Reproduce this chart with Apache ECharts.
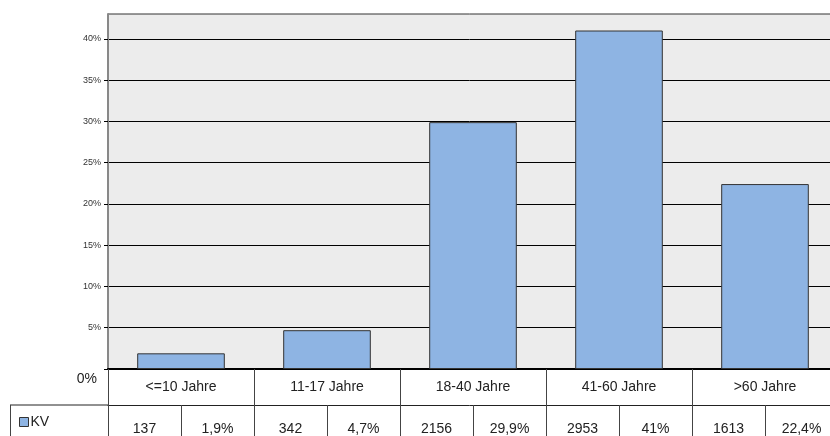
<!DOCTYPE html>
<html><head><meta charset="utf-8">
<script src="https://cdn.jsdelivr.net/npm/echarts@6/dist/echarts.min.js"></script>
<style>html,body{margin:0;padding:0;background:#fff}#c{width:830px;height:436px}</style>
</head><body><div id="c"></div>
<script>
const categories = ['<=10 Jahre', '11-17 Jahre', '18-40 Jahre', '41-60 Jahre', '>60 Jahre'];
const counts = [137, 342, 2156, 2953, 1613];
const percents = [1.9, 4.7, 29.9, 41, 22.4];
const seriesName = 'KV';
const yTicks = [5, 10, 15, 20, 25, 30, 35, 40];

const fmtPct = v => String(v).replace('.', ',') + '%';
const tableRow = [];
counts.forEach((c, i) => { tableRow.push(String(c)); tableRow.push(fmtPct(percents[i])); });

const chart = echarts.init(document.getElementById('c'));
const font = 'Liberation Sans, Arial, sans-serif';
chart.setOption({
  animation: false,
  textStyle: { fontFamily: font },
  grid: { left: 108, width: 730, top: 14, bottom: 67, outerBoundsMode: 'none', containLabel: false, show: true, backgroundColor: '#ececec', borderColor: '#333', borderWidth: 1 },
  legend: {
    data: [seriesName], left: 19, top: 415, padding: 0, itemWidth: 9, itemHeight: 9, icon: 'rect', itemGap: 0,
    itemStyle: { color: '#8eb4e3', borderColor: '#333', borderWidth: 1 },
    textStyle: { fontSize: 14, color: '#222', fontFamily: font, padding: [0, 0, 0, -3] }
  },
  xAxis: [{
    type: 'category', data: categories, position: 'bottom',
    axisLine: { show: true, lineStyle: { color: '#000', width: 2 } },
    axisTick: { show: true, length: 36, lineStyle: { color: '#444', width: 1 } },
    axisLabel: { fontSize: 14, color: '#222', margin: 11, fontFamily: font, interval: 0 }
  }, {
    type: 'category', data: tableRow, position: 'bottom', offset: 36,
    axisLine: { show: true, lineStyle: { color: '#222', width: 1 } },
    axisTick: { show: true, length: 34, lineStyle: { color: '#444', width: 1 } },
    axisLabel: { fontSize: 14, color: '#222', margin: 17, fontFamily: font, interval: 0 }
  }],
  yAxis: {
    type: 'value', min: 0, max: 43, interval: 5,
    axisLine: { show: true, lineStyle: { color: '#888', width: 2 } },
    axisTick: { show: true, length: 4, customValues: [0].concat(yTicks), lineStyle: { color: '#000' } },
    splitLine: { show: true, lineStyle: { color: '#000', width: 1 } },
    axisLabel: {
      fontSize: 9, color: '#333', margin: 7, fontFamily: font, customValues: yTicks,
      formatter: v => v + '%'
    }
  },
  series: [{
    name: seriesName, type: 'bar', data: percents, barWidth: '60%', xAxisIndex: 0,
    itemStyle: { color: '#8eb4e3', borderColor: '#333', borderWidth: 1 }
  }],
  graphic: [
    { type: 'text', right: 733, top: 372, style: { text: '0%', fontSize: 14, fill: '#222', fontFamily: font, textAlign: 'right' } },
    { type: 'line', shape: { x1: 10, y1: 405, x2: 108, y2: 405 }, style: { stroke: '#222', lineWidth: 1 } },
    { type: 'line', shape: { x1: 10.5, y1: 405, x2: 10.5, y2: 436 }, style: { stroke: '#444', lineWidth: 1 } }
  ]
});
</script></body></html>
